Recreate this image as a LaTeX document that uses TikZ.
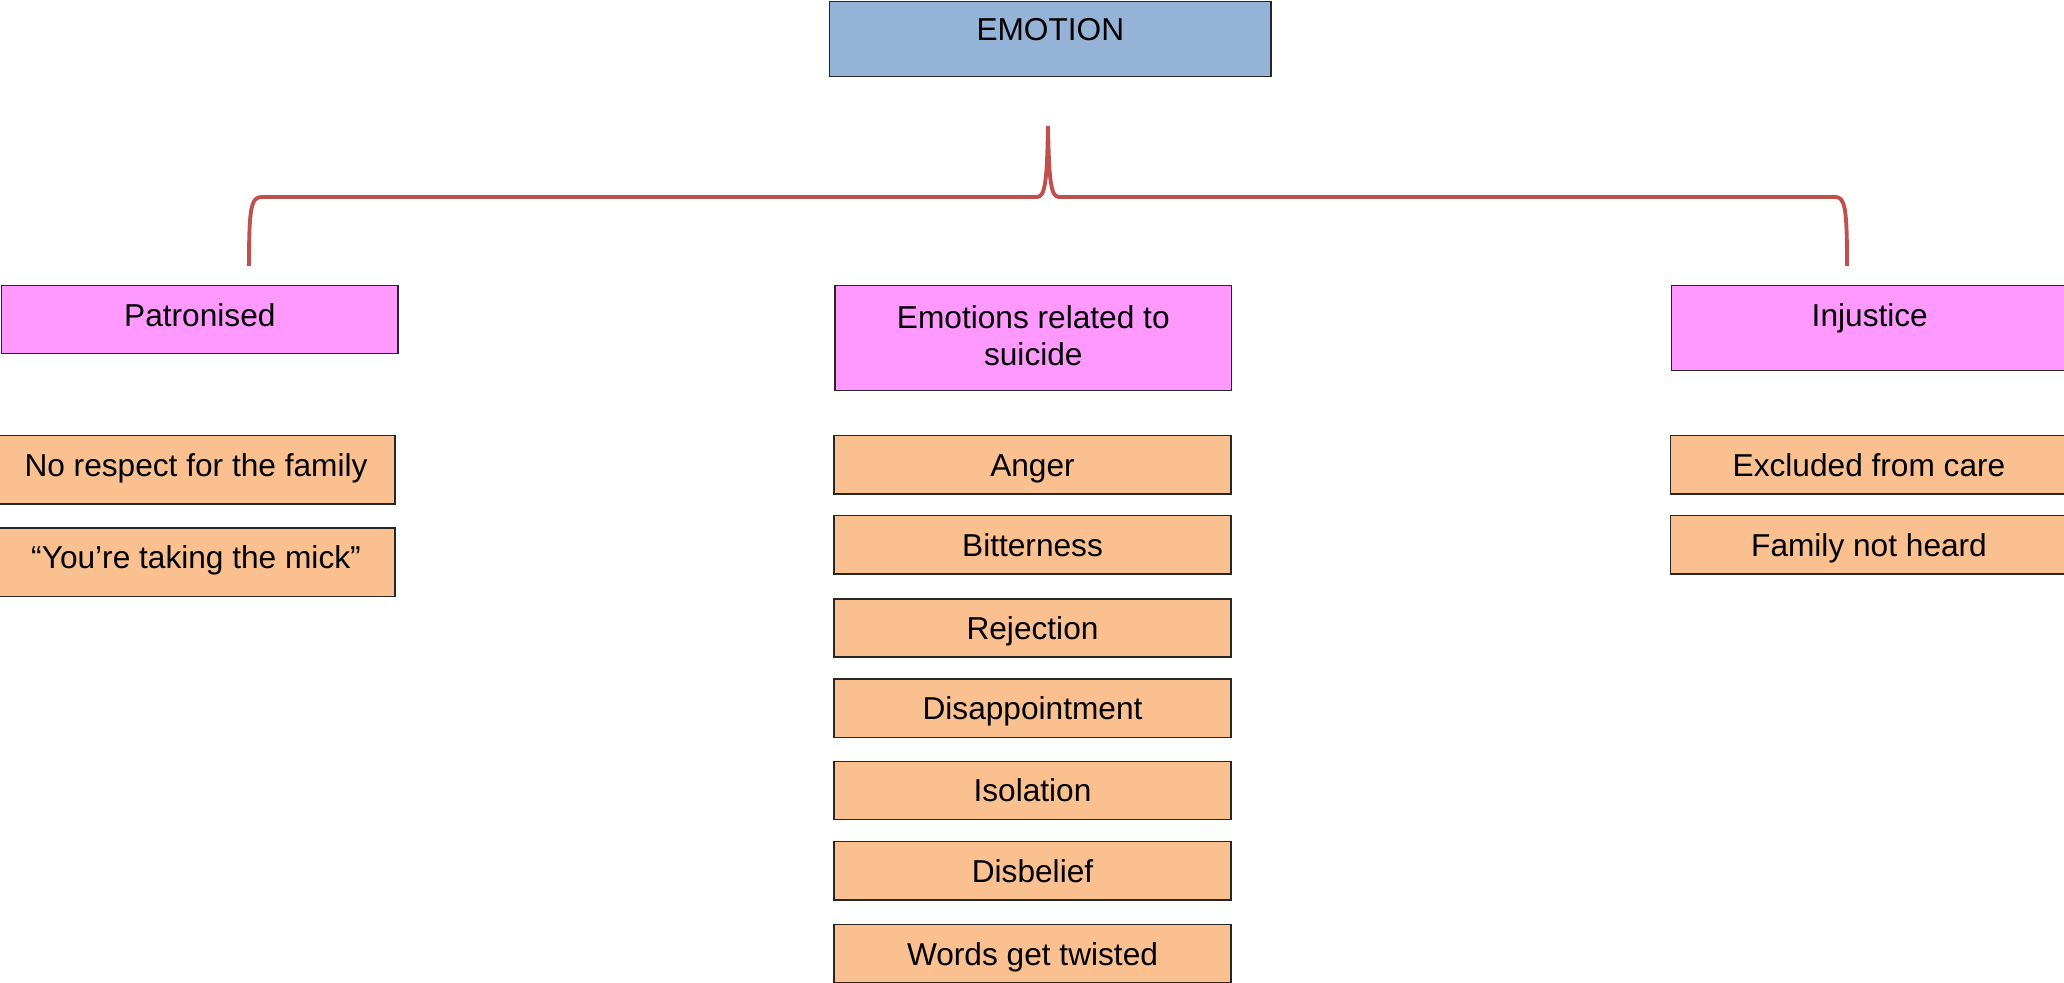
\documentclass[tikz,border=0pt]{standalone}
\usepackage{fontspec}
\setmainfont{Liberation Sans}
\definecolor{headfill}{HTML}{95B3D7}
\definecolor{groupfill}{HTML}{FF99FF}
\definecolor{itemfill}{HTML}{FAC090}
\definecolor{bracecol}{HTML}{C0504D}
\begin{document}
\begin{tikzpicture}[x=0.01cm,y=-0.01cm,
  every node/.style={font=\fontsize{9}{10.4}\selectfont},
  box/.style={rectangle, draw=black!85, line width=0.4pt, inner sep=0pt},
  topbox/.style={box, anchor=north west},
  toptext/.style={anchor=north, inner sep=0pt, align=center, yshift=-#1},
  itembox/.style={box, fill=itemfill, minimum height=0.583cm,
    text height=7.2pt, text depth=0.76pt},
  sidebox/.style={itembox, minimum width=3.98cm, minimum height=0.683cm,
    text height=6.5pt, text depth=2.86pt},
  midbox/.style={itembox, minimum width=3.964cm},
  rightbox/.style={itembox, minimum width=3.965cm},
  brace/.style={draw=bracecol, line width=1.1pt}
]
\useasboundingbox (0,0) rectangle (2064,983);

% heading
\node[topbox, fill=headfill, minimum width=4.41cm, minimum height=0.75cm,
  label={[toptext=0.17cm]north:EMOTION}] (emotion) at (829,1) {};

% group headings
\node[topbox, fill=groupfill, minimum width=3.96cm, minimum height=0.68cm,
  label={[toptext=0.18cm]north:Patronised}] (patron) at (1,285) {};
\node[topbox, fill=groupfill, minimum width=3.964cm, minimum height=1.05cm,
  label={[toptext=0.20cm]north:Emotions related to\\suicide}] (suicide) at (834.3,285) {};
\node[topbox, fill=groupfill, minimum width=3.965cm, minimum height=0.85cm,
  label={[toptext=0.18cm]north:Injustice}] (injust) at (1670.7,285) {};

% brace joining the heading to the three groups
\coordinate (braceL)  at (249,266);
\coordinate (braceLc) at (262,197);
\coordinate (braceMl) at (1037,197);
\coordinate (braceTop) at (1048,126);
\coordinate (braceMr) at (1059,197);
\coordinate (braceRc) at (1835,197);
\coordinate (braceR)  at (1847,266);
\draw[brace] (braceL) .. controls (249,207) and (251,197) .. (braceLc)
  -- (braceMl) .. controls (1045,197) and (1047,182) .. (braceTop)
  .. controls (1049,182) and (1051,197) .. (braceMr)
  -- (braceRc) .. controls (1845,197) and (1847,207) .. (braceR);

% left column
\node[sidebox] (respect) at (196,469.9) {No respect for the family};
\node[sidebox] (mick) at (196,562.2) {“You’re taking the mick”};

% centre column
\node[midbox] (anger) at (1032.5,464.7) {Anger};
\node[midbox] (bitter) at (1032.5,544.9) {Bitterness};
\node[midbox] (reject) at (1032.5,628) {Rejection};
\node[midbox] (disapp) at (1032.5,708.2) {Disappointment};
\node[midbox] (isol) at (1032.5,790.4) {Isolation};
\node[midbox] (disbel) at (1032.5,870.9) {Disbelief};
\node[midbox] (twist) at (1032.5,953.8) {Words get twisted};

% right column
\node[rightbox] (exclud) at (1869,464.9) {Excluded from care};
\node[rightbox] (notheard) at (1869,544.9) {Family not heard};
\end{tikzpicture}
\end{document}
